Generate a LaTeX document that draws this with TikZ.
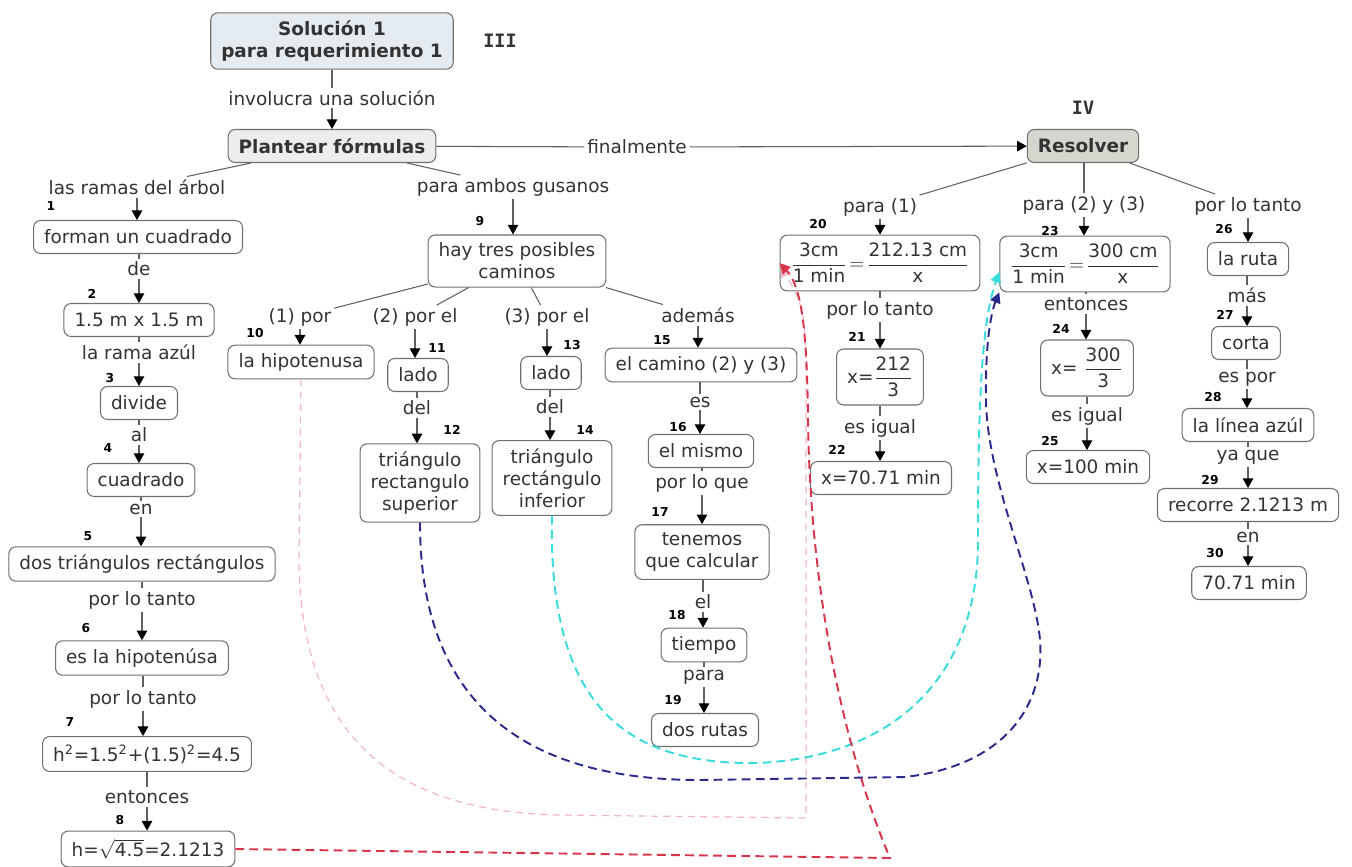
\documentclass[tikz,border=0pt]{standalone}
\usepackage{amsmath}
\usepackage{fontspec}
\setmainfont{DejaVu Sans}
\newfontfamily\romfs{DejaVu Sans Mono}
\usetikzlibrary{arrows.meta,calc}

\definecolor{txt}{HTML}{333333}
\definecolor{boxgray}{HTML}{707070}
\definecolor{linegray}{HTML}{606060}
\definecolor{titlefill}{HTML}{E4ECF2}
\definecolor{plantfill}{HTML}{EDEDED}
\definecolor{resfill}{HTML}{D6D6CE}
\definecolor{pinkc}{HTML}{F2B6C6}
\definecolor{redc}{HTML}{D8344A}
\definecolor{navyc}{HTML}{2A2A8C}
\definecolor{cyanc}{HTML}{38DCDC}

\newcommand{\mfs}{\fontsize{10.5}{12.5}\selectfont}

\tikzset{
  cbox/.style={draw=boxgray, line width=0.6pt, rounded corners=4pt, fill=white,
    align=center, inner xsep=6pt, inner ysep=4.5pt, minimum height=0.66cm,
    font=\mfs, text=txt},
  linkphrase/.style={inner sep=1.5pt, font=\mfs, text=txt},
  cnum/.style={inner sep=0pt, font=\fontsize{7}{8}\selectfont\bfseries, text=black},
  cline/.style={draw=linegray, line width=0.6pt},
  carrow/.style={cline, -{Triangle[width=6pt,length=5.5pt,color=black]}},
  crosslink/.style={line width=1.1pt, dash pattern=on 5pt off 3pt,
    -{Triangle[width=6pt,length=6pt]}},
}

\begin{document}
\begin{tikzpicture}[x=0.02cm,y=-0.02cm]
  \useasboundingbox (0,0) rectangle (1352,866);

  % top level
  \node[cbox,fill=titlefill,font=\mfs\bfseries] (sol) at (332,41) {Solución 1\\para requerimiento 1};
  \node[font=\mfs\bfseries\romfs,text=txt] (iii) at (500,41) {III};
  \node[cbox,fill=plantfill,font=\mfs\bfseries] (plan) at (332,146) {Plantear fórmulas};
  \node[font=\mfs\bfseries\romfs,text=txt] (iv) at (1083,108) {IV};
  \node[cbox,fill=resfill,font=\mfs\bfseries] (res) at (1083,146) {Resolver};
  \node[linkphrase] (l0) at (332,98) {involucra una solución};
  \node[linkphrase] (lfin) at (637,147) {finalmente};

  % left column
  \node[cbox] (c1) at (138,237) {forman un cuadrado};
  \node[cbox] (c2) at (139,320) {1.5 m x 1.5 m};
  \node[cbox] (c3) at (139,403) {divide};
  \node[cbox] (c4) at (141,480) {cuadrado};
  \node[cbox] (c5) at (142,564) {dos triángulos rectángulos};
  \node[cbox] (c6) at (142,658) {es la hipotenúsa};
  \node[cbox] (c7) at (147,754) {h\textsuperscript{2}=1.5\textsuperscript{2}+(1.5)\textsuperscript{2}=4.5};
  \node[cbox] (c8) at (148,849) {h=$\sqrt{\text{4.5}}$=2.1213};

  % middle
  \node[cbox] (c9) at (517,261) {hay tres posibles\\caminos};
  \node[cbox] (c10) at (301,362) {la hipotenusa};
  \node[cbox] (c11) at (418,375) {lado};
  \node[cbox] (c12) at (420,483) {triángulo\\rectangulo\\superior};
  \node[cbox] (c13) at (551,373) {lado};
  \node[cbox] (c14) at (552,478) {triángulo\\rectángulo\\inferior};
  \node[cbox] (c15) at (701,365) {el camino (2) y (3)};
  \node[cbox] (c16) at (701,451) {el mismo};
  \node[cbox] (c17) at (702,552) {tenemos\\que calcular};
  \node[cbox] (c18) at (704,645) {tiempo};
  \node[cbox] (c19) at (705,730) {dos rutas};

  % right
  \node[cbox] (c20) at (880,263) {$\dfrac{\text{3cm}}{\text{1 min}}\!=\!\dfrac{\text{212.13 cm}}{\text{x}}$};
  \node[cbox] (c21) at (880,377) {x=$\dfrac{\text{212}}{\text{3}}$};
  \node[cbox] (c22) at (881,478) {x=70.71 min};
  \node[cbox] (c23) at (1085,264) {$\dfrac{\text{3cm}}{\text{1 min}}\!=\!\dfrac{\text{300 cm}}{\text{x}}$};
  \node[cbox] (c24) at (1087,368) {x= $\dfrac{\text{300}}{\text{3}}$};
  \node[cbox] (c25) at (1088,467) {x=100 min};
  \node[cbox] (c26) at (1248,259) {la ruta};
  \node[cbox] (c27) at (1246,343) {corta};
  \node[cbox] (c28) at (1248,425) {la línea azúl};
  \node[cbox] (c29) at (1248,505) {recorre 2.1213 m};
  \node[cbox] (c30) at (1249,583) {70.71 min};

  % linking phrases
  \node[linkphrase] (l1) at (137,187) {las ramas del árbol};
  \node[linkphrase] (l2) at (139,269) {de};
  \node[linkphrase] (l3) at (139,352) {la rama azúl};
  \node[linkphrase] (l4) at (139,435) {al};
  \node[linkphrase] (l5) at (141,509) {en};
  \node[linkphrase] (l6) at (142,600) {por lo tanto};
  \node[linkphrase] (l7) at (143,699) {por lo tanto};
  \node[linkphrase] (l8) at (147,797) {entonces};
  \node[linkphrase] (l9) at (513,187) {para ambos gusanos};
  \node[linkphrase] (l10) at (300,317) {(1) por};
  \node[linkphrase] (l11) at (415,317) {(2) por el};
  \node[linkphrase] (l12) at (417,408) {del};
  \node[linkphrase] (l13) at (547,317) {(3) por el};
  \node[linkphrase] (l14) at (550,407) {del};
  \node[linkphrase] (l15) at (698,315) {además};
  \node[linkphrase] (l16) at (700,402) {es};
  \node[linkphrase] (l17) at (702,483) {por lo que};
  \node[linkphrase] (l18) at (703,602) {el};
  \node[linkphrase] (l19) at (704,677) {para};
  \node[linkphrase] (l20) at (880,207) {para (1)};
  \node[linkphrase] (l21) at (880,310) {por lo tanto};
  \node[linkphrase] (l22) at (880,428) {es igual};
  \node[linkphrase] (l23) at (1084,205) {para (2) y (3)};
  \node[linkphrase] (l24) at (1086,304) {entonces};
  \node[linkphrase] (l25) at (1087,416) {es igual};
  \node[linkphrase] (l26) at (1248,206) {por lo tanto};
  \node[linkphrase] (l27) at (1247,295) {más};
  \node[linkphrase] (l28) at (1247,379) {es por};
  \node[linkphrase] (l29) at (1248,457) {ya que};
  \node[linkphrase] (l30) at (1248,537) {en};

  % step numbers
  \foreach \n/\x/\y in {1/51/206, 2/92/294, 3/110/378, 4/108/448, 5/88/536,
      6/86/628, 7/70/722, 8/120/820, 9/480/221, 10/255/333, 11/437/348,
      12/452/430, 13/572/345, 14/585/430, 15/662/340, 16/678/427, 17/660/512,
      18/677/615, 19/673/700, 20/818/224, 21/857/337, 22/837/450, 23/1050/231,
      24/1061/329, 25/1050/441, 26/1224/229, 27/1225/315, 28/1213/397,
      29/1210/480, 30/1215/553}
    \node[cnum] (n\n) at (\x,\y) {\n};

  % connectors
  \draw[cline] (sol) -- (l0);
  \draw[carrow] (l0) -- (plan);
  \draw[cline] (plan) -- (lfin);
  \draw[carrow] (lfin) -- (res);
  % slanted links out of a concept
  \foreach \a/\l in {plan/l1, plan/l9, c9/l10, c9/l11, c9/l13, c9/l15,
      res/l20, res/l26}
    \draw[cline] (\a) -- (\l);
  % straight links out of a concept
  \foreach \a/\l in {c1/l2, c2/l3, c3/l4, c4/l5, c5/l6, c6/l7, c7/l8,
      c11/l12, c13/l14, c15/l16, c16/l17, c17/l18, c18/l19, res/l23,
      c20/l21, c21/l22, c23/l24, c24/l25, c26/l27, c27/l28, c28/l29, c29/l30}
    \draw[cline] (\l |- \a.south) -- (\l);
  % arrows into a concept
  \foreach \l/\b in {l1/c1, l2/c2, l3/c3, l4/c4, l5/c5, l6/c6, l7/c7, l8/c8,
      l9/c9, l10/c10, l11/c11, l12/c12, l13/c13, l14/c14, l15/c15, l16/c16,
      l17/c17, l18/c18, l19/c19, l20/c20, l21/c21, l22/c22, l23/c23, l24/c24,
      l25/c25, l26/c26, l27/c27, l28/c28, l29/c29, l30/c30}
    \draw[carrow] (\l) -- (\l |- \b.north);

  % cross links
  \draw[crosslink, pinkc, line width=0.7pt, dash pattern=on 4pt off 3pt]
    (c10.south) -- (299,560) .. controls (301,760) and (420,812) .. (560,815)
    -- (806,818) -- (806,420) .. controls (806,310) .. ($(c20.west)+(1,3)$);
  \draw[crosslink, cyanc]
    (c14.south) .. controls (548,700) and (620,765) .. (757,763)
    .. controls (880,758) and (978,690) .. (978,540)
    .. controls (978,400) and (982,320) .. ($(c23.west)+(0,8)$);
  \draw[crosslink, navyc]
    (c12.south) .. controls (420,700) and (520,780) .. (700,780) -- (905,777)
    .. controls (1010,765) and (1045,700) .. (1040,640)
    .. controls (1035,580) and (987,480) .. (986,400)
    .. controls (985,340) and (992,310) .. (c23.south west);
  \draw[crosslink, redc]
    (c8.east) -- (890,858) .. controls (840,740) and (810,580) .. (808,420)
    .. controls (807,320) and (800,285) .. (c20.west);
\end{tikzpicture}
\end{document}
